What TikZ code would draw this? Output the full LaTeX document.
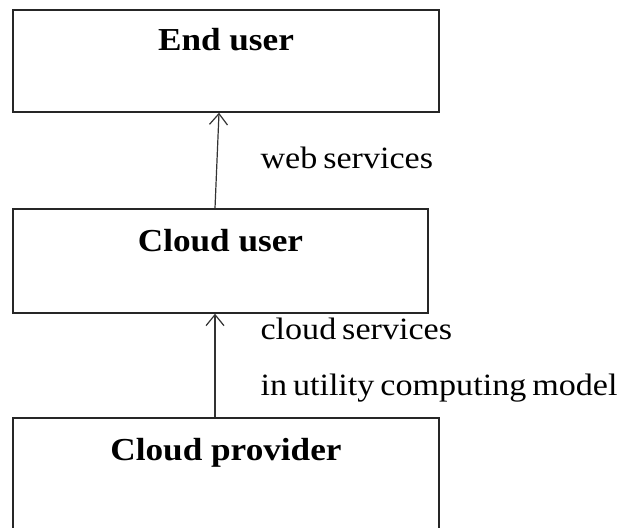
\documentclass[tikz,border=0pt]{standalone}
\usepackage{fontspec}
\setmainfont{Liberation Serif}[FakeStretch=1.1]
\newfontfamily\notefont{Liberation Serif}[FakeStretch=1.1,WordSpace=0.7]
\usepackage{tikz}
\usetikzlibrary{arrows.meta,calc,positioning}

\begin{document}
\begin{tikzpicture}[x=1pt,y=-1pt,
unitbox/.style={draw=black!85,line width=1.5pt,rectangle,inner sep=0pt},
title/.style={anchor=base,font=\fontsize{32}{38}\selectfont\bfseries},
note/.style={anchor=base west,font=\notefont\fontsize{31}{37}\selectfont},
flow/.style={draw=black!80,line width=1.2pt,-{Straight Barb[length=11pt,width=18pt,line width=1.2pt]}},]
\useasboundingbox (0,0) rectangle (628,527);
\clip (0,0) rectangle (628,527);
\node[unitbox,minimum width=426pt,minimum height=102pt] (enduser) at (226,61) {};
\node[unitbox,minimum width=415pt,minimum height=104pt] (clouduser) at (220.5,261) {};
\node[unitbox,minimum width=426pt,minimum height=122pt] (provider) at (226,479) {};

\node[title] (endusertitle) at ([yshift=-41pt]enduser.north) {End user};
\node[title] (cloudusertitle) at ([yshift=-43pt]clouduser.north) {Cloud user};
\node[title] (providertitle) at ([yshift=-43pt]provider.north) {Cloud provider};

\draw[flow] ([xshift=-5.5pt]clouduser.north) -- ([xshift=-7pt]enduser.south);
\draw[flow] ([xshift=-11pt]provider.north) -- ([xshift=-5.5pt]clouduser.south);

\node[note] (websvc) at (257,168) {web services};
\node[note] (cloudsvc) at (257,339) {cloud services};
\node[note] (utilmodel) at (257,395) {in utility computing model};
\end{tikzpicture}
\end{document}
